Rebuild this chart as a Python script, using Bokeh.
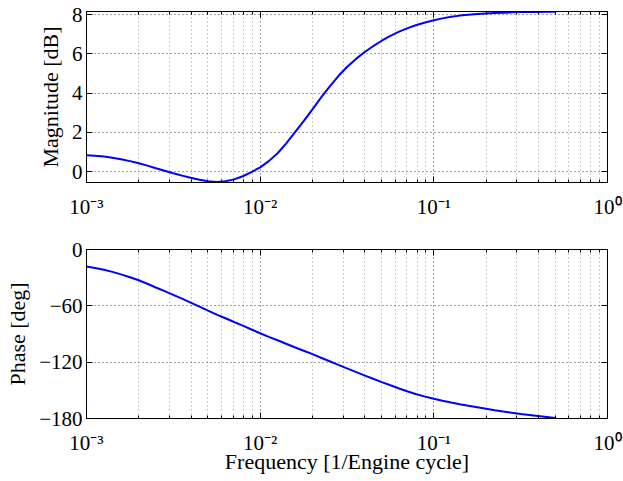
from bokeh.plotting import figure
from bokeh.models import Range1d, LogAxis, LinearAxis, FixedTicker, CustomJSTickFormatter
from bokeh.layouts import column
from bokeh.embed import file_html
from bokeh.resources import INLINE

# ---- data ----
freq = [0.001, 0.00112, 0.00126, 0.00141, 0.00158, 0.00178, 0.002, 0.00224, 0.00251,
        0.00282, 0.00316, 0.00355, 0.00398, 0.00447, 0.00501, 0.00562, 0.00631, 0.00708,
        0.00794, 0.00891, 0.01, 0.0112, 0.0126, 0.0141, 0.0158, 0.0178, 0.02, 0.0224,
        0.0251, 0.0282, 0.0316, 0.0355, 0.0398, 0.0447, 0.0501, 0.0562, 0.0631, 0.0708,
        0.0794, 0.0891, 0.1, 0.112, 0.126, 0.141, 0.158, 0.178, 0.2, 0.224, 0.251,
        0.282, 0.316, 0.355, 0.398, 0.447, 0.5]
magnitude_db = [0.83, 0.80, 0.76, 0.70, 0.63, 0.53, 0.42, 0.30, 0.17,
                0.04, -0.09, -0.21, -0.32, -0.42, -0.50, -0.54, -0.50, -0.40,
                -0.24, -0.03, 0.21, 0.53, 0.93, 1.42, 1.98, 2.57, 3.17, 3.77,
                4.33, 4.87, 5.33, 5.73, 6.08, 6.39, 6.67, 6.92, 7.13, 7.31,
                7.47, 7.60, 7.71, 7.81, 7.89, 7.95, 7.99, 8.03, 8.06, 8.08, 8.10,
                8.12, 8.13, 8.14, 8.14, 8.15, 8.15]
phase_deg = [-18.0, -19.6, -21.5, -23.8, -26.5, -29.5, -32.8, -36.5, -40.5,
             -44.4, -48.3, -52.4, -56.5, -60.8, -65.1, -69.3, -73.2, -77.2,
             -81.1, -85.2, -89.2, -93.0, -96.7, -100.4, -104.1, -107.8, -111.5, -115.3,
             -119.0, -122.9, -126.6, -130.3, -134.0, -137.7, -141.2, -144.6, -148.0, -151.3,
             -154.1, -156.7, -159.0, -161.1, -163.0, -164.8, -166.5, -168.1, -169.7, -171.2, -172.6,
             -173.9, -175.1, -176.2, -177.3, -178.4, -179.5]
freq_ticks = [0.001, 0.01, 0.1, 1.0]
mag_ticks = [0, 2, 4, 6, 8]
phase_ticks = [-180, -120, -60, 0]
mag_label = "Magnitude [dB]"
phase_label = "Phase [deg]"
freq_label = "Frequency [1/Engine cycle]"

FONT = "Liberation Serif"
minor_x = [m * d for d in freq_ticks[:-1] for m in range(2, 10)]

log_fmt_code = """
const e = Math.round(Math.log10(tick));
const sup = {'-':'\u207b','0':'\u2070','1':'\u00b9','2':'\u00b2','3':'\u00b3'};
return '10' + String(e).split('').map(c => sup[c]).join('');
"""
minus_fmt_code = "return tick < 0 ? '\u2212' + Math.abs(tick) : String(tick);"


def style_axis(ax, yaxis=False, hidden=False):
    ax.axis_line_color = "black"
    ax.axis_line_width = 1
    ax.major_tick_in = 6
    ax.major_tick_out = 0
    ax.minor_tick_in = 3
    ax.minor_tick_out = 0
    ax.major_tick_line_color = "black"
    ax.minor_tick_line_color = None if yaxis else "black"
    ax.major_label_text_font = FONT
    ax.major_label_text_font_size = "21px"
    ax.major_label_text_color = "black"
    ax.axis_label_text_font = FONT
    ax.axis_label_text_font_size = "22px"
    ax.axis_label_text_font_style = "normal"
    ax.axis_label_text_color = "black"
    if hidden:
        ax.major_label_text_font_size = "1px"
        ax.major_label_text_alpha = 0
        ax.major_label_standoff = 0


def make_fig(y, yr, yticks, ylabel, frame_h, top_b, bottom_b, xlabel=None, yfmt=None):
    p = figure(frame_width=521, frame_height=frame_h, x_axis_type="log",
               x_range=Range1d(1e-3, 1), y_range=yr,
               output_backend="svg", toolbar_location=None,
               min_border_left=86, min_border_right=16,
               min_border_top=top_b, min_border_bottom=bottom_b)
    p.background_fill_color = "white"
    p.border_fill_color = "white"
    p.outline_line_color = "black"
    xt = FixedTicker(ticks=freq_ticks, minor_ticks=minor_x)
    yt = FixedTicker(ticks=yticks, minor_ticks=[])
    p.xaxis.ticker = xt
    p.yaxis.ticker = yt
    p.xaxis.formatter = CustomJSTickFormatter(code=log_fmt_code)
    if yfmt:
        p.yaxis.formatter = CustomJSTickFormatter(code=yfmt)
    style_axis(p.xaxis[0])
    style_axis(p.yaxis[0], yaxis=True)
    p.xaxis.major_label_standoff = 12
    p.yaxis.major_label_standoff = 4
    p.yaxis.axis_label = ylabel
    p.yaxis.axis_label_standoff = 6
    if xlabel:
        p.xaxis.axis_label = xlabel
        p.xaxis.axis_label_standoff = -9
    top = LogAxis(ticker=xt)
    style_axis(top, hidden=True)
    p.add_layout(top, "above")
    right = LinearAxis(ticker=yt)
    style_axis(right, yaxis=True, hidden=True)
    p.add_layout(right, "right")

    p.xgrid.grid_line_color = "#444444"
    p.xgrid.grid_line_dash = "1 3"
    p.xgrid.minor_grid_line_color = "#9a9a9a"
    p.xgrid.minor_grid_line_dash = "1 3"
    p.ygrid.grid_line_color = "#444444"
    p.ygrid.grid_line_dash = "1 3"
    p.line(freq, y, line_color="#0000ff", line_width=2)
    return p


p1 = make_fig(magnitude_db, Range1d(-0.56, 8.16), mag_ticks, mag_label, 171, 11, 40)
p2 = make_fig(phase_deg, Range1d(-180, 0), phase_ticks, phase_label, 169, 27, 63,
              xlabel=freq_label, yfmt=minus_fmt_code)

layout = column(p1, p2, spacing=0)
open("out.html", "w").write(file_html(layout, INLINE))
